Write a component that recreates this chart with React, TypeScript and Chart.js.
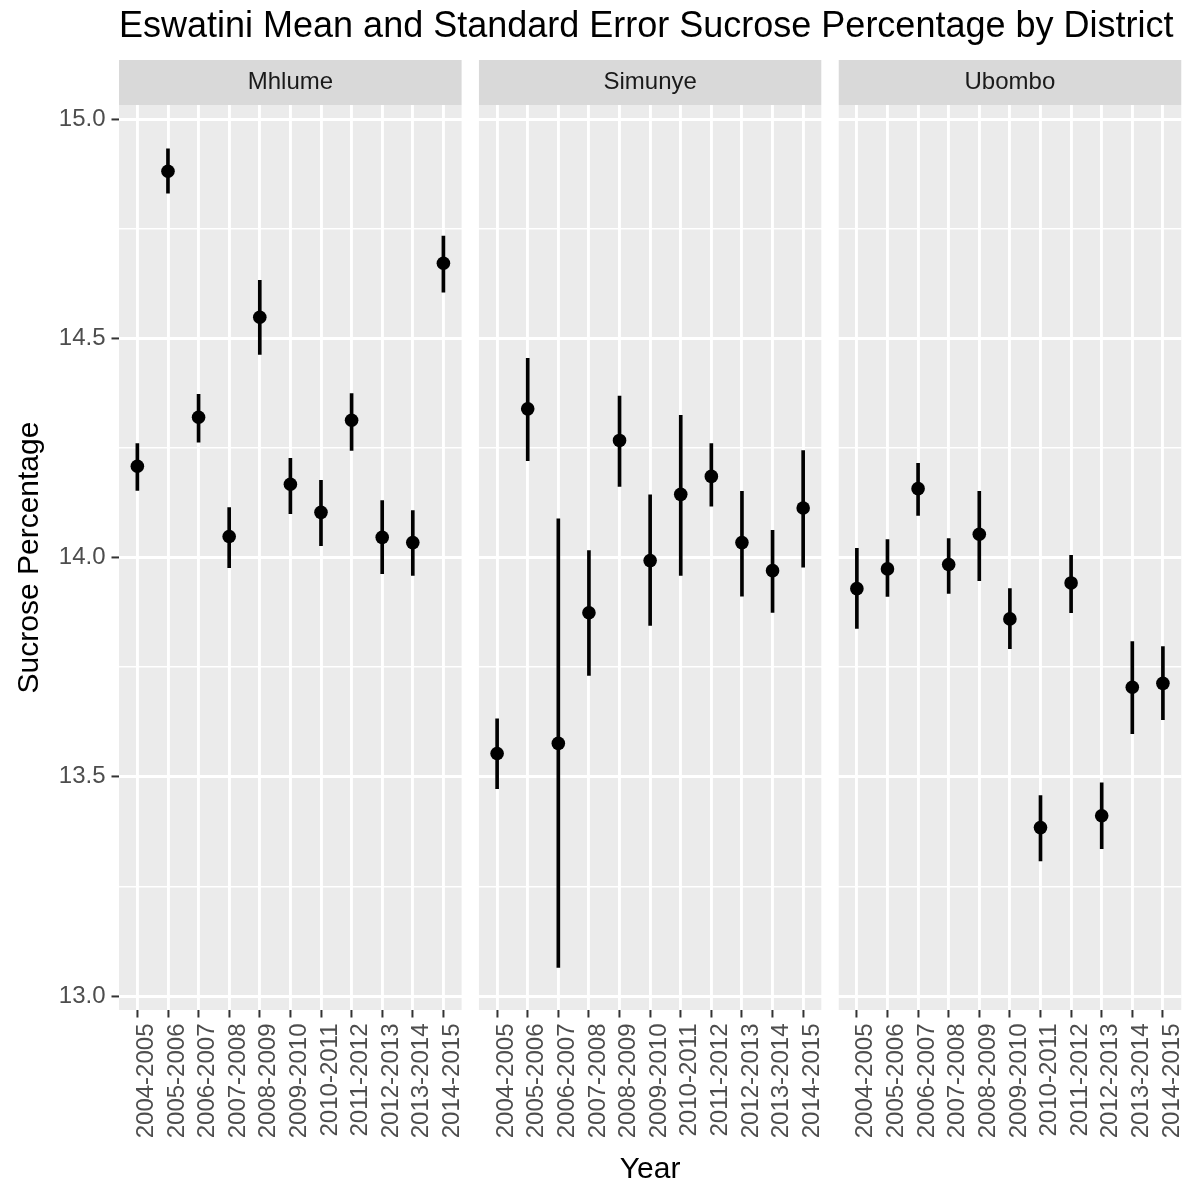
import React, { useEffect, useRef } from "react";
import { Chart, registerables } from "chart.js";

Chart.register(...registerables);

// ---------- data ----------
const seasons = [
  "2004-2005", "2005-2006", "2006-2007", "2007-2008", "2008-2009", "2009-2010",
  "2010-2011", "2011-2012", "2012-2013", "2013-2014", "2014-2015",
];
const districts = ["Mhlume", "Simunye", "Ubombo"];

const mhlumeMean = [14.208, 14.881, 14.32, 14.048, 14.548, 14.167, 14.103, 14.313, 14.046, 14.034, 14.671];
const mhlumeLow = [14.153, 14.831, 14.263, 13.977, 14.463, 14.1, 14.027, 14.244, 13.963, 13.959, 14.605];
const mhlumeHigh = [14.26, 14.932, 14.372, 14.114, 14.632, 14.226, 14.176, 14.374, 14.13, 14.107, 14.733];

const simunyeMean = [13.553, 14.339, 13.576, 13.874, 14.267, 13.993, 14.144, 14.185, 14.034, 13.97, 14.113];
const simunyeLow = [13.473, 14.221, 13.065, 13.731, 14.162, 13.845, 13.959, 14.117, 13.912, 13.875, 13.978];
const simunyeHigh = [13.632, 14.454, 14.088, 14.016, 14.368, 14.143, 14.324, 14.26, 14.151, 14.062, 14.244];

const ubomboMean = [13.929, 13.974, 14.157, 13.984, 14.053, 13.86, 13.384, 13.942, 13.411, 13.704, 13.713];
const ubomboLow = [13.838, 13.911, 14.096, 13.918, 13.947, 13.792, 13.308, 13.874, 13.336, 13.598, 13.63];
const ubomboHigh = [14.021, 14.041, 14.215, 14.043, 14.151, 13.929, 13.457, 14.005, 13.486, 13.808, 13.797];

const yTickValues = [13, 13.25, 13.5, 13.75, 14, 14.25, 14.5, 14.75, 15];
const yMajorTicks = [13, 13.5, 14, 14.5, 15];

const titleText = "Eswatini Mean and Standard Error Sucrose Percentage by District";
const xTitle = "Year";
const yTitle = "Sucrose Percentage";

// ---------- layout / style constants ----------
const FONT = "'Liberation Sans', Arial, Helvetica, sans-serif";
const W = 1198;
const H = 1189;
const PANEL_EXPAND = 0.6;
const PANEL_GAP = 0.555;
const STRIP_H = 45;
const Y_MIN = 12.968;
const Y_MAX = 15.032;

const panelStart = (p: number) => p * (seasons.length - 1 + 2 * PANEL_EXPAND + PANEL_GAP);
const isMajor = (v: number) => yMajorTicks.some((m) => Math.abs(m - v) < 1e-6);

const means = [mhlumeMean, simunyeMean, ubomboMean];
const lows = [mhlumeLow, simunyeLow, ubomboLow];
const highs = [mhlumeHigh, simunyeHigh, ubomboHigh];

const facetPlugin = {
  id: "facets",
  beforeDraw(chart: any) {
    const { ctx, chartArea, scales } = chart;
    const x = scales.x;
    ctx.save();
    districts.forEach((name, p) => {
      const l = x.getPixelForValue(panelStart(p) - PANEL_EXPAND);
      const r = x.getPixelForValue(panelStart(p) + seasons.length - 1 + PANEL_EXPAND);
      ctx.fillStyle = "#EBEBEB";
      ctx.fillRect(l, chartArea.top, r - l, chartArea.bottom - chartArea.top);
      ctx.fillStyle = "#D9D9D9";
      ctx.fillRect(l, chartArea.top - STRIP_H, r - l, STRIP_H);
      ctx.fillStyle = "#1A1A1A";
      ctx.font = `24px ${FONT}`;
      ctx.textAlign = "center";
      ctx.textBaseline = "middle";
      ctx.fillText(name, (l + r) / 2, chartArea.top - STRIP_H / 2);
    });
    ctx.restore();
  },
  beforeDatasetsDraw(chart: any) {
    const { ctx, chartArea, scales } = chart;
    const x = scales.x;
    ctx.save();
    ctx.fillStyle = "#FFFFFF";
    for (let p = 0; p < districts.length - 1; p++) {
      const l = x.getPixelForValue(panelStart(p) + seasons.length - 1 + PANEL_EXPAND);
      const r = x.getPixelForValue(panelStart(p + 1) - PANEL_EXPAND);
      ctx.fillRect(l, chartArea.top - STRIP_H, r - l, chartArea.bottom - chartArea.top + STRIP_H);
    }
    ctx.restore();
  },
};

export default function App() {
  const ref = useRef<HTMLCanvasElement>(null);

  useEffect(() => {
    Chart.defaults.font.family = FONT;
    const allX: number[] = [];
    districts.forEach((_, p) => seasons.forEach((__, i) => allX.push(panelStart(p) + i)));

    const pointSets = districts.map((d, p) => ({
      type: "scatter" as const,
      label: d + " mean",
      data: means[p].map((v, i) => ({ x: panelStart(p) + i, y: v })),
      pointRadius: 6.8,
      pointHoverRadius: 6.8,
      pointBackgroundColor: "#000000",
      pointBorderWidth: 0,
      showLine: false,
      order: 0,
    }));
    const barSets = districts.map((d, p) => ({
      type: "bar" as const,
      label: d + " SE",
      data: lows[p].map((lo, i) => ({ x: panelStart(p) + i, y: [lo, highs[p][i]] })),
      backgroundColor: "#000000",
      borderWidth: 0,
      barThickness: 3,
      grouped: false,
      order: 1,
    }));

    const chart = new Chart(ref.current as HTMLCanvasElement, {
      type: "scatter",
      data: { datasets: [...pointSets, ...barSets] as any },
      plugins: [facetPlugin],
      options: {
        animation: false,
        responsive: false,
        devicePixelRatio: 1,
        events: [],
        layout: { padding: { left: 0, right: 16, top: 0, bottom: 0 } },
        plugins: {
          legend: { display: false },
          tooltip: { enabled: false },
          title: {
            display: true,
            text: titleText,
            align: "start",
            fullSize: false,
            color: "#000000",
            font: { size: 36, weight: "normal", lineHeight: 1.2 },
            padding: { top: 5, bottom: 56.8 },
          },
        },
        scales: {
          x: {
            type: "linear",
            min: panelStart(0) - PANEL_EXPAND,
            max: panelStart(districts.length - 1) + seasons.length - 1 + PANEL_EXPAND,
            offset: false,
            afterBuildTicks: (scale: any) => {
              scale.ticks = allX.map((v) => ({ value: v }));
            },
            afterFit: (scale: any) => {
              scale.height = 179;
            },
            grid: {
              color: "#FFFFFF",
              lineWidth: 2.9,
              offset: false,
              drawTicks: true,
              tickLength: 7.5,
              tickColor: "#333333",
              tickWidth: 2,
            },
            border: { display: false },
            ticks: {
              autoSkip: false,
              minRotation: 90,
              maxRotation: 90,
              padding: 6,
              labelOffset: 9,
              color: "#4D4D4D",
              font: { size: 24 },
              callback: (_v: any, i: number) => seasons[i % seasons.length],
            },
            title: {
              display: true,
              text: xTitle,
              color: "#000000",
              font: { size: 30 },
              padding: { top: 0, bottom: 1 },
            },
          },
          y: {
            type: "linear",
            min: Y_MIN,
            max: Y_MAX,
            afterBuildTicks: (scale: any) => {
              scale.ticks = yTickValues.map((v) => ({ value: v }));
            },
            afterFit: (scale: any) => {
              scale.width = 119;
            },
            grid: {
              color: "#FFFFFF",
              lineWidth: (c: any) => (c.tick && isMajor(c.tick.value) ? 2.9 : 1.45),
              drawTicks: true,
              tickLength: 7.5,
              tickColor: (c: any) => (c.tick && isMajor(c.tick.value) ? "#333333" : "rgba(0,0,0,0)"),
              tickWidth: 2,
            },
            border: { display: false },
            ticks: {
              padding: 6,
              color: "#4D4D4D",
              font: { size: 24 },
              callback: (v: any) => (isMajor(Number(v)) ? Number(v).toFixed(1) : ""),
            },
            title: {
              display: true,
              text: yTitle,
              color: "#000000",
              font: { size: 30 },
              padding: { top: 12, bottom: 0 },
            },
          },
        },
      } as any,
    });
    return () => chart.destroy();
  }, []);

  return (
    <div style={{ position: "absolute", left: 0, top: 0, width: W, height: H, background: "#FFFFFF" }}>
      <canvas ref={ref} width={W} height={H} style={{ display: "block", width: W, height: H }} />
    </div>
  );
}
